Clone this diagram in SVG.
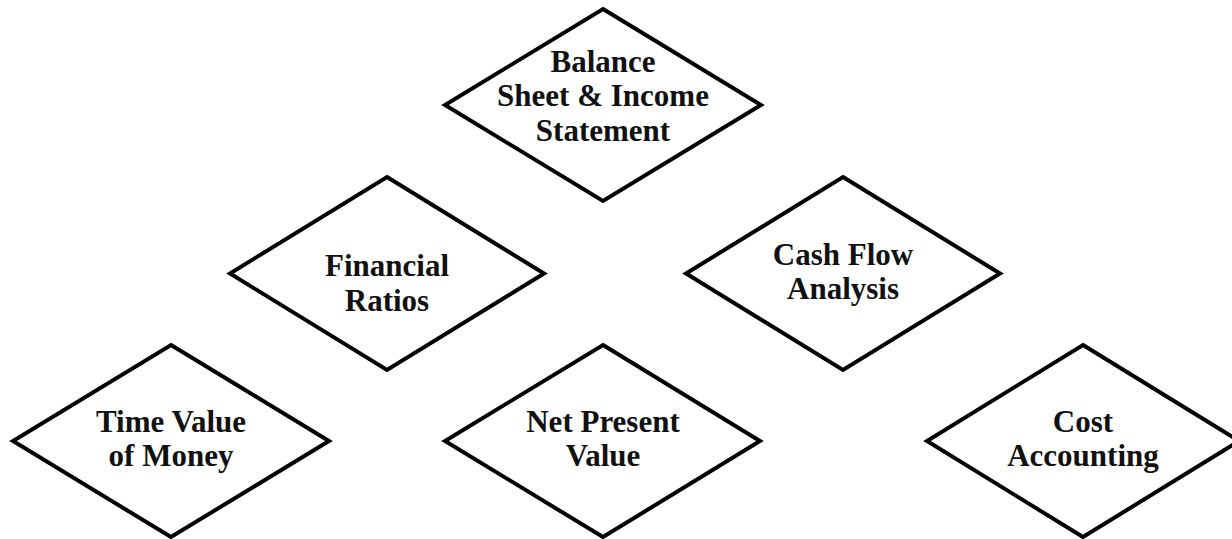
<svg xmlns="http://www.w3.org/2000/svg" width="1232" height="539" viewBox="0 0 1232 539">
<style>
.d{fill:#fff;stroke:#000;stroke-width:4;stroke-linejoin:miter}
.t{font-family:"Liberation Serif","Times New Roman",serif;font-weight:bold;font-size:31px;fill:#111;text-anchor:middle}
</style>
<rect width="1232" height="539" fill="#fff"/>
<g id="connectors"></g>
<g id="balance-sheet">
<polygon class="d" points="603,9 761,105 603,201 445,105"/>
<text class="t" x="603" y="72">Balance</text>
<text class="t" x="603" y="106">Sheet &amp; Income</text>
<text class="t" x="603" y="141">Statement</text>
</g>
<g id="financial-ratios">
<polygon class="d" points="387,177 544,273.5 387,370 230,273.5"/>
<text class="t" x="387" y="276">Financial</text>
<text class="t" x="387" y="311">Ratios</text>
</g>
<g id="cash-flow">
<polygon class="d" points="843,177 1000,273.5 843,370 686,273.5"/>
<text class="t" x="843" y="265">Cash Flow</text>
<text class="t" x="843" y="299">Analysis</text>
</g>
<g id="time-value">
<polygon class="d" points="171,345 329,441 171,537 13,441"/>
<text class="t" x="171" y="432">Time Value</text>
<text class="t" x="171" y="466">of Money</text>
</g>
<g id="net-present-value">
<polygon class="d" points="603,345 760,441 603,537 445,441"/>
<text class="t" x="603" y="432">Net Present</text>
<text class="t" x="603" y="466">Value</text>
</g>
<g id="cost-accounting">
<polygon class="d" points="1083,345 1239,441 1083,537 927,441"/>
<text class="t" x="1083" y="432">Cost</text>
<text class="t" x="1083" y="466">Accounting</text>
</g>
</svg>
